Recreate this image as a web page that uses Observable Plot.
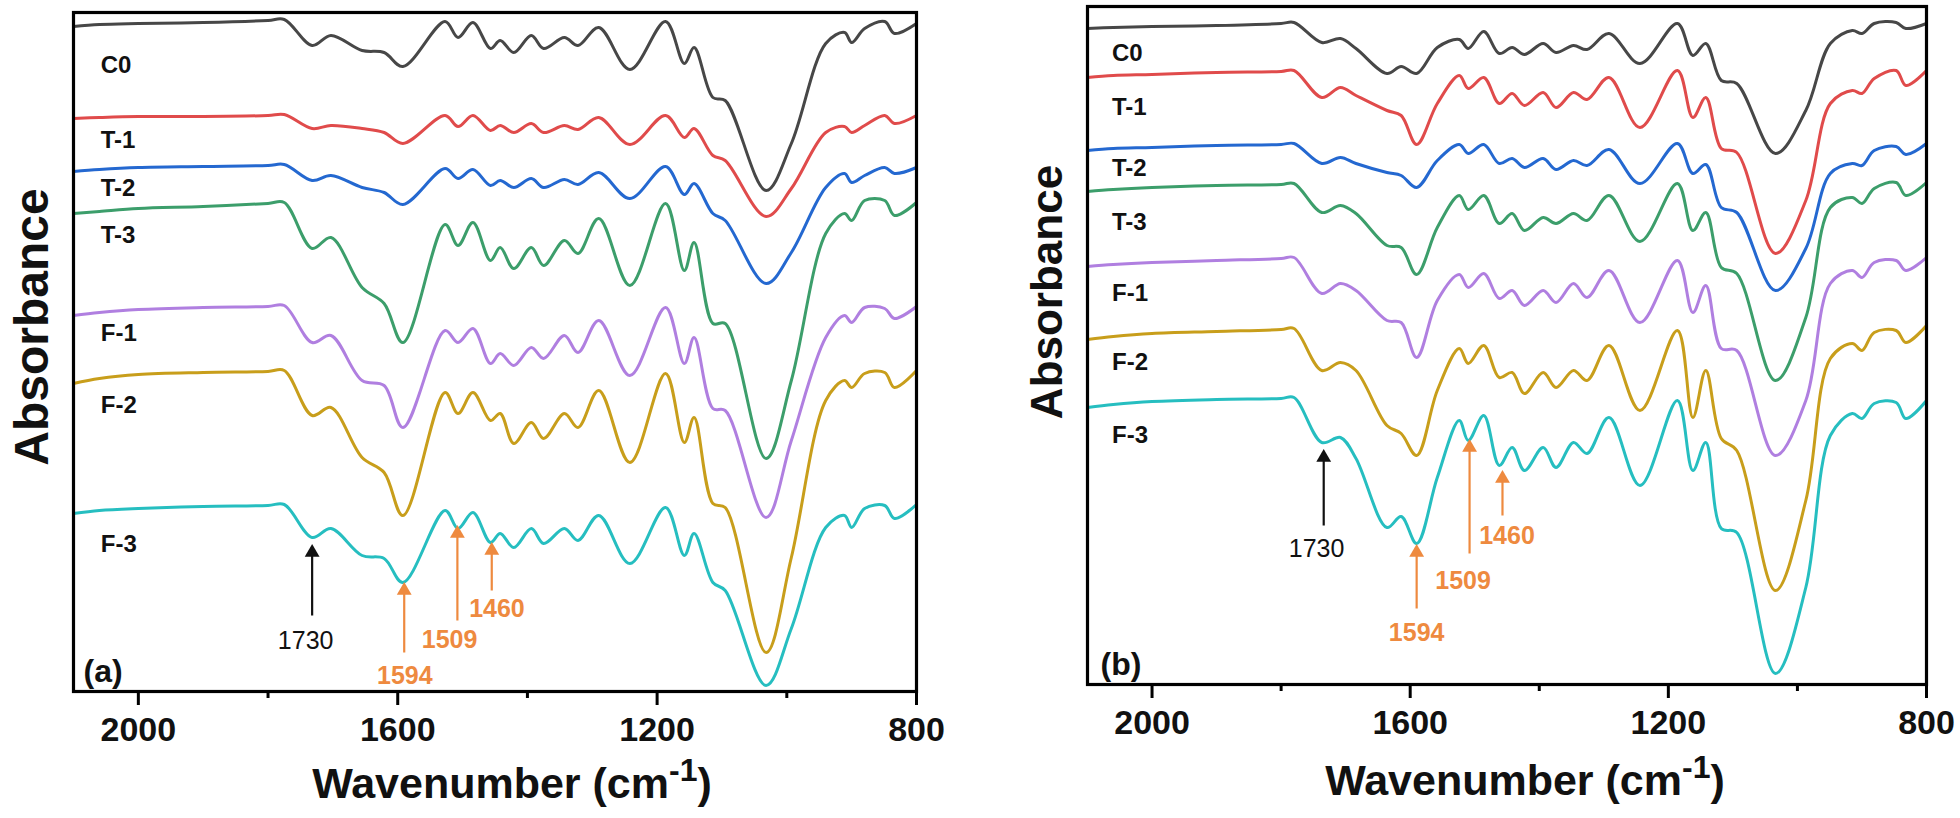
<!DOCTYPE html>
<html><head><meta charset="utf-8">
<script src="https://cdn.jsdelivr.net/npm/d3@7"></script>
<script src="https://cdn.jsdelivr.net/npm/@observablehq/plot@0.6"></script>
<style>
body{margin:0;background:#fff;}
#wrap{display:flex;width:1960px;height:818px;overflow:hidden;}
#wrap > svg{flex:none;display:block;}
</style></head><body><div id="wrap"></div>
<script>
const FONT = "'Liberation Sans', Arial, Helvetica, sans-serif";
const seriesNames = ["C0","T-1","T-2","T-3","F-1","F-2","F-3"];
const seriesColors = ["#474747","#E04B4B","#2468D0","#3C9E6B","#B07FE0","#C89E1B","#26BEC0"];
const peakLabels = ["1730","1594","1509","1460"];
const peakColors = ["#111111","#EE8A3F","#EE8A3F","#EE8A3F"];
const majorTicks = [2000,1600,1200,800];
const minorTicks = [1800,1400,1000];

// ---- panel (a) ----
const wnA = [2100,2060,2000,1900,1800,1775,1732,1703,1655,1621,1592,1527,1507,1484,1457,1442,1421,1394,1375,1343,1322,1290,1242,1187,1158,1143,1114,1095,1032,993,940,911,900,880,849,834,800];
const c0A = [674,676,677,678,680,681,655,665,650,648,634,679,663,678,652,660,648,665,652,663,655,673,631,679,637,653,603,600,510,557,657,668,658,672,679,667,677];
const t1A = [582,583,584,584,585,586,572,575,572,568,557,585,574,585,570,575,568,577,568,575,571,583,556,585,563,572,545,540,484,512,568,574,568,575,585,577,585];
const t2A = [529,531,533,534,535,536,520,525,513,508,496,532,522,531,515,520,513,522,513,521,516,528,502,534,506,517,487,480,417,448,513,527,518,525,533,527,533];
const t3A = [487,489,492,494,497,498,452,463,413,397,358,476,455,478,440,453,432,453,435,460,447,482,415,497,430,458,377,377,242,320,467,487,480,500,500,485,498];
const f1A = [385,388,391,393,394,395,358,365,320,315,273,370,358,372,337,347,335,353,342,365,348,380,325,393,337,363,292,290,183,260,363,385,378,393,392,382,394];
const f2A = [317,322,326,328,329,330,285,293,243,228,185,308,287,308,280,287,257,278,262,287,273,310,238,327,258,283,197,193,48,143,300,320,313,327,328,313,330];
const f3A = [187,190,192,194,195,196,163,172,145,142,118,190,172,188,158,167,153,172,157,172,160,185,137,193,145,167,118,110,15,72,173,185,173,192,195,182,196];
const labelYA = [635,560,512,465,367,295,156];
const arrowWnA = [1732,1590,1508,1455];
const arrowFromA = [85,48,80,110];
const arrowToA = [148,110,167,150];
const peakTextWnA = [1742,1589,1520,1447];
const peakTextYA = [60,25,61,92];

// ---- panel (b) ----
const wnB = [2100,2060,2000,1900,1800,1780,1737,1708,1684,1636,1614,1590,1558,1524,1510,1486,1462,1442,1423,1394,1374,1347,1326,1292,1244,1186,1162,1142,1118,1094,1034,987,949,915,900,881,847,832,800];
const c0B = [672,673,674,675,677,678,658,662,652,627,634,627,653,661,652,669,647,653,646,657,648,655,651,667,637,677,645,657,620,617,547,590,657,670,667,677,678,672,677];
const t1B = [623,625,626,628,629,630,603,613,605,590,585,556,597,625,612,623,597,607,595,608,593,608,601,623,573,630,583,603,552,548,447,500,597,610,607,622,630,615,630];
const t2B = [550,552,553,555,556,557,537,543,537,528,525,513,540,556,547,556,537,542,533,542,531,540,535,551,517,557,527,536,493,488,410,452,527,537,535,550,554,546,557];
const t3B = [509,511,513,515,516,517,488,495,487,455,453,426,473,505,491,505,477,487,470,483,477,487,480,505,459,517,470,488,433,427,320,383,493,503,497,512,518,505,518];
const f1B = [434,436,438,440,442,443,407,417,410,380,378,343,400,426,413,427,402,410,395,410,398,417,403,430,378,440,388,415,352,350,245,300,417,430,423,438,440,430,443];
const f2B = [361,364,367,369,371,372,330,338,330,275,267,245,310,352,337,355,323,328,307,328,313,330,320,355,290,370,283,330,262,250,110,200,342,357,350,368,370,358,375];
const f3B = [293,296,299,301,302,303,258,263,242,173,184,157,223,280,260,285,235,253,230,253,233,258,247,283,215,300,230,258,172,168,27,113,265,287,282,297,298,282,300];
const labelYB = [647,593,532,478,407,338,265];
const arrowWnB = [1734,1590,1508,1457];
const arrowFromB = [175,92,147,185];
const arrowToB = [243,148,253,222];
const peakTextWnB = [1745,1590,1518,1450];
const peakTextYB = [152,68,120,165];

function makePanel(cfg) {
  const rows = [];
  cfg.series.forEach((vals, k) => vals.forEach((v, i) => rows.push({series: seriesNames[k], wn: cfg.wn[i], a: v})));
  const labels = seriesNames.map((s, k) => ({s, wn: cfg.labelWn, a: cfg.labelY[k]}));
  const arrows = peakLabels.map((p, k) => ({p, x: cfg.arrowWn[k], y1: cfg.arrowFrom[k], y2: cfg.arrowTo[k], tx: cfg.textWn[k], ty: cfg.textY[k], color: peakColors[k]}));
  const blackArrows = arrows.filter(d => d.color === peakColors[0]);
  const orangeArrows = arrows.filter(d => d.color !== peakColors[0]);
  const arrowMarks = (data, color, weight) => [
    Plot.link(data, {x1: "x", x2: "x", y1: "y1", y2: "y2", stroke: color, strokeWidth: 2.2}),
    Plot.dot(data, {x: "x", y: "y2", symbol: "triangle", fill: color, stroke: "none", r: 5.5}),
    Plot.text(data, {x: "tx", y: "ty", text: "p", fill: color, fontSize: 25, fontWeight: weight, fontFamily: FONT})
  ];
  const svg = Plot.plot({
    width: 980, height: 818,
    marginLeft: cfg.m[0], marginRight: cfg.m[1], marginTop: cfg.m[2], marginBottom: cfg.m[3],
    x: {domain: [2100, 800]},
    y: {domain: cfg.yDomain, axis: null},
    color: {domain: seriesNames, range: seriesColors},
    style: {fontFamily: FONT, background: "white", overflow: "visible"},
    marks: [
      Plot.line(rows, {x: "wn", y: "a", z: "series", stroke: "series", strokeWidth: 3, curve: "catmull-rom"}),
      Plot.text(labels, {x: "wn", y: "a", text: "s", textAnchor: "start", lineAnchor: "middle", fontSize: 24, fontWeight: "bold", fill: "#111", fontFamily: FONT}),
      ...arrowMarks(blackArrows, peakColors[0], "normal"),
      ...arrowMarks(orangeArrows, peakColors[1], "bold"),
      Plot.text([cfg.tag], {frameAnchor: "bottom-left", text: d => d, dx: cfg.tagDx, dy: -10, lineAnchor: "bottom", textAnchor: "start", fontSize: 32, fontWeight: "bold", fill: "#111", fontFamily: FONT}),
      Plot.frame({stroke: "black", strokeWidth: 3.2}),
      Plot.axisX({ticks: majorTicks, tickSize: 14, tickPadding: 11, strokeWidth: 3, tickFormat: d => String(d), fontSize: 34, fontWeight: "bold", fill: "#111", label: null, fontFamily: FONT}),
      Plot.axisX({ticks: minorTicks, tickSize: 7, strokeWidth: 3, text: null, label: null})
    ]
  });
  const s = d3.select(svg);
  s.append("text")
    .attr("transform", `translate(${cfg.yTitle[0]},${cfg.yTitle[1]}) rotate(-90)`)
    .attr("text-anchor", "middle").attr("dominant-baseline", "central")
    .attr("font-family", FONT).attr("font-weight", "bold").attr("font-size", cfg.yTitle[2]).attr("fill", "#111")
    .text("Absorbance");
  const t = s.append("text")
    .attr("x", cfg.xTitle[0]).attr("y", cfg.xTitle[1])
    .attr("text-anchor", "middle")
    .attr("font-family", FONT).attr("font-weight", "bold").attr("font-size", 43).attr("fill", "#111");
  t.append("tspan").text("Wavenumber (cm");
  t.append("tspan").attr("font-size", 32).attr("dy", -17).text("-1");
  t.append("tspan").attr("dy", 17).text(")");
  return svg;
}

const wrap = document.getElementById("wrap");
wrap.appendChild(makePanel({
  wn: wnA, series: [c0A, t1A, t2A, t3A, f1A, f2A, f3A], yDomain: [9, 688],
  m: [73, 64, 12, 127], labelWn: 2058, labelY: labelYA,
  arrowWn: arrowWnA, arrowFrom: arrowFromA, arrowTo: arrowToA, textWn: peakTextWnA, textY: peakTextYA,
  tag: "(a)", tagDx: 10, yTitle: [31, 327, 48], xTitle: [512, 798]
}));
wrap.appendChild(makePanel({
  wn: wnB, series: [c0B, t1B, t2B, t3B, f1B, f2B, f3B], yDomain: [16, 694],
  m: [107, 34, 6, 134], labelWn: 2062, labelY: labelYB,
  arrowWn: arrowWnB, arrowFrom: arrowFromB, arrowTo: arrowToB, textWn: peakTextWnB, textY: peakTextYB,
  tag: "(b)", tagDx: 13, yTitle: [66, 292, 44], xTitle: [545, 795]
}));
</script></body></html>
